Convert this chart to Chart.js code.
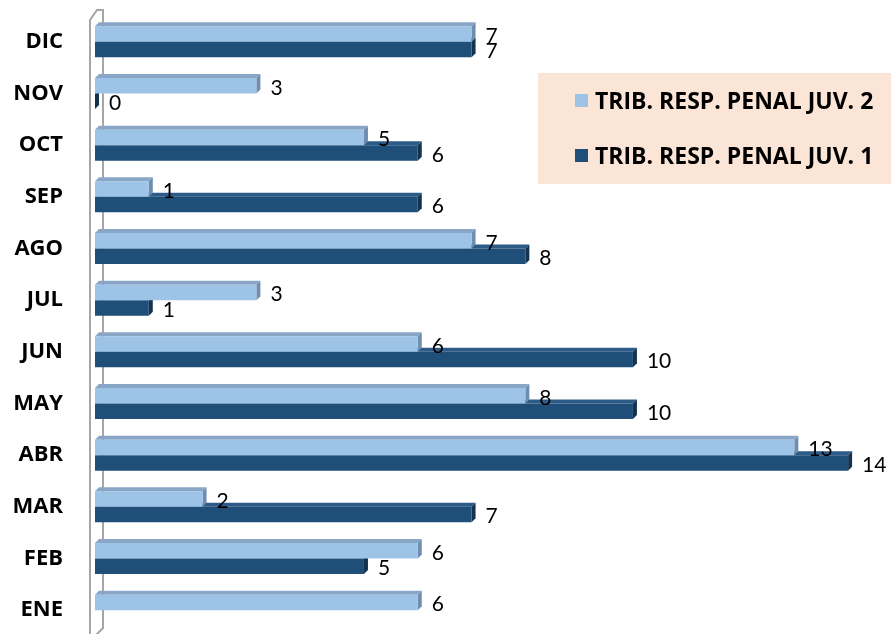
<!DOCTYPE html>
<html>
<head>
<meta charset="utf-8">
<script src="https://cdn.jsdelivr.net/npm/chart.js@4/dist/chart.umd.min.js"></script>
<style>
html, body { margin: 0; padding: 0; background: #fff; overflow: hidden; }
#wrap { position: relative; width: 896px; height: 640px; }
</style>
</head>
<body>
<div id="wrap"><canvas id="monthChart"></canvas></div>
<script>
const months = ["ENE", "FEB", "MAR", "ABR", "MAY", "JUN", "JUL", "AGO", "SEP", "OCT", "NOV", "DIC"];
const juv2 = [6, 6, 2, 13, 8, 6, 3, 7, 1, 5, 3, 7];
const juv1 = [null, 5, 7, 14, 10, 10, 1, 8, 6, 6, 0, 7];
const seriesNames = ["TRIB. RESP. PENAL JUV. 2", "TRIB. RESP. PENAL JUV. 1"];

const FONT = "Lato, 'Open Sans', sans-serif";
const BOLD = "'Open Sans', sans-serif";
const depth = 4;
const faces = [
  { top: "#8aa6c6", side: "#6f8dae" },   // juv 2
  { top: "#2d5b88", side: "#15324f" }    // juv 1
];

// 3d wall of the category axis + bar top/side faces
const bars3d = {
  id: "bars3d",
  beforeDatasetsDraw(chart) {
    const c = chart.ctx, a = chart.chartArea;
    c.save();
    c.strokeStyle = "#a6a6a6";
    c.lineWidth = 2;
    c.beginPath();
    c.moveTo(a.left - 5, 700);
    c.lineTo(a.left - 5, 20);
    c.lineTo(a.left + 2, 10);
    c.lineTo(a.left + 8, 10);
    c.lineTo(a.left + 8, 628);
    c.lineTo(a.left, 636);
    c.stroke();

    for (let d = chart.data.datasets.length - 1; d >= 0; d--) {
      const meta = chart.getDatasetMeta(d);
      meta.data.forEach((bar, i) => {
        if (chart.data.datasets[d].data[i] == null) return;
        const top = bar.y - bar.height / 2, bot = bar.y + bar.height / 2;
        c.fillStyle = faces[d].top;
        c.beginPath();
        c.moveTo(bar.base, top);
        c.lineTo(bar.x, top);
        c.lineTo(bar.x + depth, top - depth);
        c.lineTo(bar.base + depth, top - depth);
        c.closePath();
        c.fill();
        c.fillStyle = faces[d].side;
        c.beginPath();
        c.moveTo(bar.x, top);
        c.lineTo(bar.x + depth, top - depth);
        c.lineTo(bar.x + depth, bot - depth);
        c.lineTo(bar.x, bot);
        c.closePath();
        c.fill();
      });
    }
    c.restore();
  },
  afterDatasetsDraw(chart) {
    const c = chart.ctx;
    c.save();
    c.fillStyle = "#000";
    c.font = "21px " + FONT;
    c.textBaseline = "middle";
    c.textAlign = "left";
    chart.data.datasets.forEach((ds, d) => {
      chart.getDatasetMeta(d).data.forEach((bar, i) => {
        if (ds.data[i] == null) return;
        c.fillText(String(ds.data[i]), bar.x + 14, bar.y + 2);
      });
    });

    // legend box
    c.fillStyle = "#fbe5d6";
    c.fillRect(538, 73, 353, 111);
    c.font = "bold 23px " + BOLD;
    chart.data.datasets.forEach((ds, d) => {
      const y = 101 + d * 55;
      c.fillStyle = ds.backgroundColor;
      c.fillRect(575, y - 7, 13, 13);
      c.fillStyle = "#000";
      c.fillText(ds.label, 595, y + 1);
    });
    c.restore();
  }
};

new Chart(document.getElementById("monthChart"), {
  type: "bar",
  data: {
    labels: months,
    datasets: [
      { label: seriesNames[0], data: juv2, backgroundColor: "#9dc3e6", categoryPercentage: 0.6, barPercentage: 1 },
      { label: seriesNames[1], data: juv1, backgroundColor: "#1f4e79", categoryPercentage: 0.6, barPercentage: 1 }
    ]
  },
  options: {
    indexAxis: "y",
    responsive: true,
    maintainAspectRatio: false,
    animation: false,
    layout: { padding: { top: 16, bottom: 4, right: 21, left: 0 } },
    plugins: { legend: { display: false }, tooltip: { enabled: false } },
    scales: {
      x: { display: false, min: 0, max: 14.5 },
      y: {
        reverse: true,
        grid: { display: false, drawTicks: false },
        border: { display: false },
        ticks: { color: "#000", padding: 32, font: { family: BOLD, size: 22, weight: "bold" } },
        afterFit(scale) {
          scale.width = 95;
          scale.paddingTop = 0;
          scale.paddingBottom = 0;
        }
      }
    }
  },
  plugins: [bars3d]
});
</script>
</body>
</html>
